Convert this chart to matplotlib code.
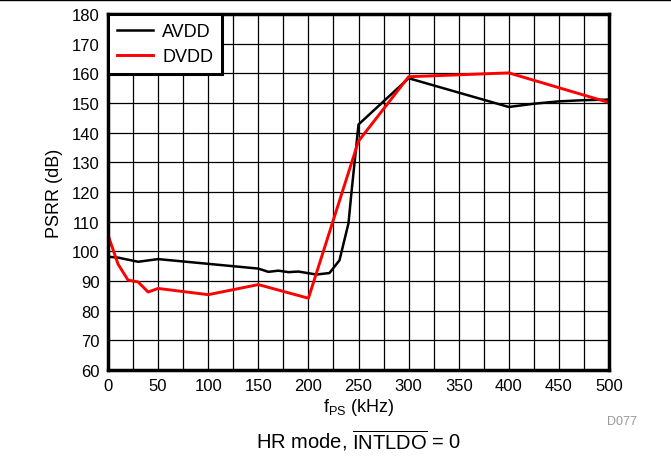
import matplotlib
matplotlib.use("Agg")
import matplotlib.pyplot as plt
import matplotlib.ticker as ticker
from matplotlib.lines import Line2D

plt.rcParams['font.family'] = ['Liberation Sans', 'DejaVu Sans']
plt.rcParams['mathtext.fontset'] = 'custom'
plt.rcParams['mathtext.rm'] = 'Liberation Sans'
plt.rcParams['mathtext.it'] = 'Liberation Sans'

# values
avdd_freq = [0, 10, 30, 50, 100, 150, 160, 170, 180, 190, 208, 221, 231, 240, 243, 250, 300, 400, 425, 450, 475, 500]
avdd_psrr = [98.2, 97.9, 96.5, 97.4, 95.8, 94.2, 93.1, 93.5, 93.0, 93.2, 92.2, 92.7, 97.0, 109.5, 120.0, 142.8, 158.4, 148.7, 149.8, 150.6, 151.0, 151.2]

dvdd_freq = [0, 10, 20, 30, 40, 50, 100, 150, 200, 250, 300, 400, 500]
dvdd_psrr = [105.5, 95.7, 90.3, 89.7, 86.3, 87.5, 85.4, 88.8, 84.2, 137.2, 158.9, 160.2, 150.2]

x_ticks = [0, 50, 100, 150, 200, 250, 300, 350, 400, 450, 500]
y_ticks = [60, 70, 80, 90, 100, 110, 120, 130, 140, 150, 160, 170, 180]

fig = plt.figure(figsize=(6.71, 4.60), dpi=100)
ax = fig.add_axes([0.161, 0.1935, 0.7466, 0.7735])

ax.plot(avdd_freq, avdd_psrr, color="black", lw=1.8, label="AVDD", zorder=3)
ax.plot(dvdd_freq, dvdd_psrr, color="#ff0000", lw=2.1, label="DVDD", zorder=4)

ax.set_xlim(0, 500)
ax.set_ylim(60, 180)
ax.set_xticks(x_ticks)
ax.set_yticks(y_ticks)
ax.xaxis.set_minor_locator(ticker.MultipleLocator(25))
ax.grid(which="both", color="black", lw=0.9)
ax.tick_params(which="both", length=0, labelsize=12, pad=6)

for spine in ax.spines.values():
    spine.set_linewidth(2.5)
    spine.set_zorder(5)

ax.set_ylabel("PSRR (dB)", fontsize=13, labelpad=6)
ax.set_xlabel(r"f$_{\mathregular{PS}}$ (kHz)", fontsize=13, labelpad=2)

leg = ax.legend(loc="upper left", borderaxespad=0, fancybox=False, fontsize=13,
                handlelength=2.0, handletextpad=0.5, borderpad=0.5, labelspacing=0.45)
leg.get_frame().set_edgecolor("black")
leg.get_frame().set_linewidth(2.2)
leg.get_frame().set_alpha(1)
leg.set_zorder(6)

fig.text(0.534, 0.043, r"HR mode, $\overline{\mathregular{INTLDO}}$ = 0", fontsize=14.5,
         ha="center", va="center")
fig.text(0.95, 0.082, "D077", fontsize=9, color="#999999", ha="right", va="center")

fig.add_artist(Line2D([0, 1], [0.997, 0.997], transform=fig.transFigure, color="black", lw=1))

plt.savefig("out.png", dpi=100)
